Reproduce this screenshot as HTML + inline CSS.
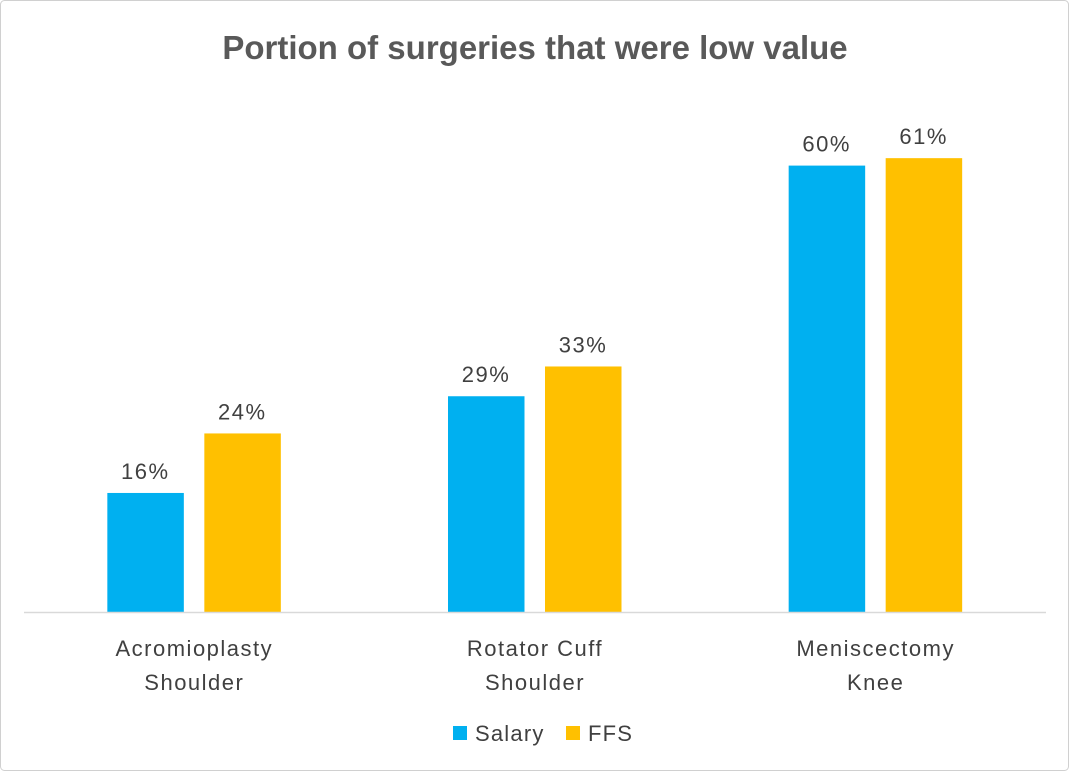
<!DOCTYPE html>
<html><head><meta charset="utf-8"><style>
html,body{margin:0;padding:0;background:#fff;}
svg{display:block;font-family:"Liberation Sans",sans-serif;}
</style></head><body>
<svg id="chart" width="1070" height="772">
<rect x="0.5" y="0.5" width="1068" height="770" rx="4" fill="#fff" stroke="#d0d0d0"/>
<text x="535" y="59" text-anchor="middle" font-size="33" font-weight="bold" fill="#595959">Portion of surgeries that were low value</text>
<g id="plot"></g>
<line x1="24" y1="612.5" x2="1046" y2="612.5" stroke="#d9d9d9" stroke-width="1.5"/>
<g>
<rect x="453" y="726" width="14" height="14" fill="#00b0f0"/>
<text x="475" y="741" font-size="22" letter-spacing="1.2" fill="#404040">Salary</text>
<rect x="566" y="726" width="14" height="14" fill="#ffc000"/>
<text x="588" y="741" font-size="22" letter-spacing="1.2" fill="#404040">FFS</text>
</g>
</svg>
<script>
const categories=[["Acromioplasty","Shoulder"],["Rotator Cuff","Shoulder"],["Meniscectomy","Knee"]];
const salary=[16,29,60];
const ffs=[24,33,61];
const seriesNames=["salary","ffs"];
const colors=["#00b0f0","#ffc000"];
const ns="http://www.w3.org/2000/svg";
const g=document.getElementById("plot");
const x0=24,x1=1046,base=612,pxPer=7.44;
const bw=(x1-x0)/categories.length;
const y=v=>base-v*pxPer;
function mk(t,a){const e=document.createElementNS(ns,t);for(const k in a)e.setAttribute(k,a[k]);g.appendChild(e);return e;}
categories.forEach((c,i)=>{
  const cx=x0+bw*(i+0.5);
  [salary,ffs].forEach((s,j)=>{
    const bx=cx+(j===0?-87:10);
    const r=mk("rect",{x:bx,y:y(s[i]),width:76.5,height:base-y(s[i]),fill:colors[j]});
    
    
    const t=mk("text",{x:bx+38,y:y(s[i])-14,"text-anchor":"middle","font-size":22,"letter-spacing":1.5,fill:"#404040"});
    t.textContent=s[i]+"%";
    
    
  });
  c.forEach((line,k)=>{
    const t=mk("text",{x:cx,y:656+k*34,"text-anchor":"middle","font-size":22,"letter-spacing":1.5,fill:"#404040"});
    t.textContent=line;
    
    
  });
});
</script>
</body></html>
